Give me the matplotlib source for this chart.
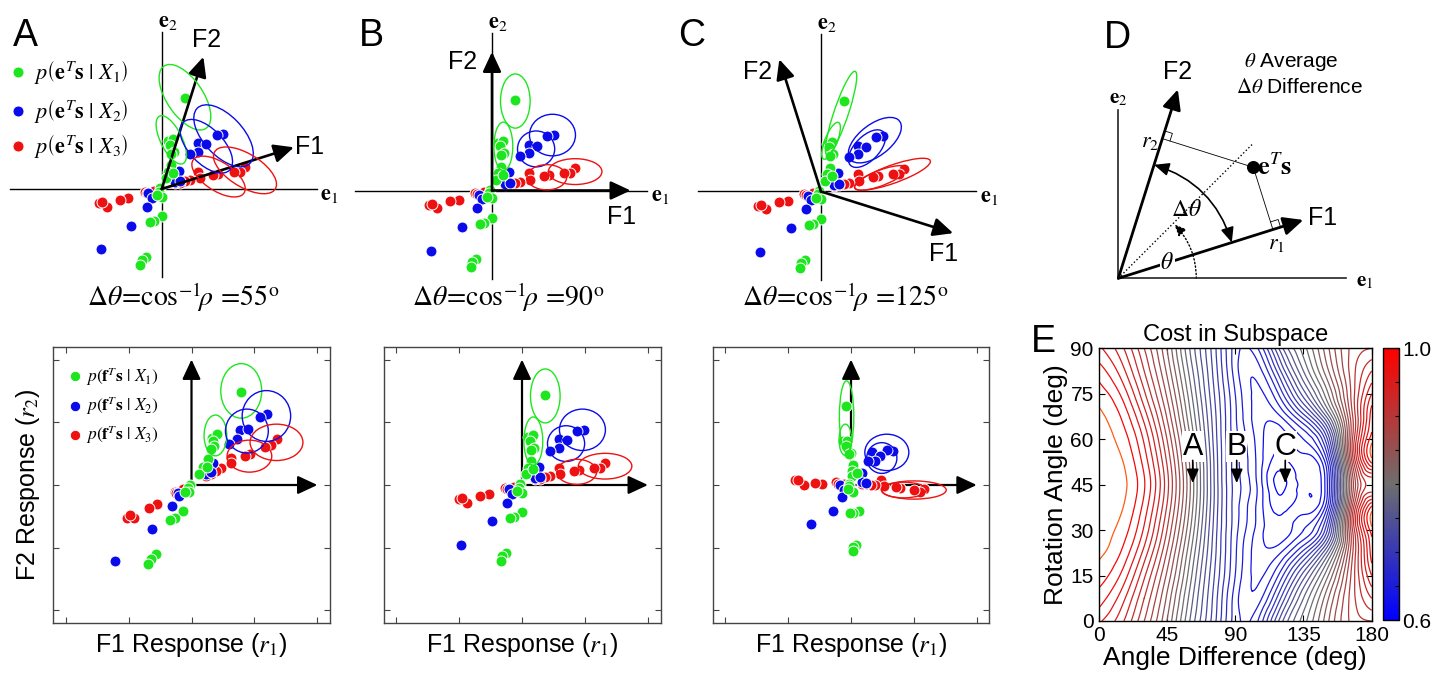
import numpy as np
import matplotlib
matplotlib.use("Agg")
import matplotlib.pyplot as plt
import matplotlib.tri as mtri
from matplotlib.patches import Ellipse, FancyArrowPatch
from matplotlib.transforms import Affine2D
from matplotlib.colors import LinearSegmentedColormap, Normalize
from matplotlib.cm import ScalarMappable

plt.rcParams['font.family'] = ['Liberation Sans', 'DejaVu Sans']
plt.rcParams['mathtext.fontset'] = 'stix'

# stimuli in the (e1, e2) plane, one list per class (1 unit = one tick of the response plots)
green_pts = [(0.37, 1.44), (0.10, 0.76), (0.18, 0.79), (0.13, 0.70), (0.19, 0.59), (0.14, 0.56),
             (0.15, 0.38), (0.10, 0.27), (0.07, 0.17), (0.18, 0.25), (-0.03, 0.01), (-0.05, -0.04),
             (0.00, -0.12), (-0.08, -0.10), (0.00, -0.43), (-0.12, -0.51), (-0.19, -0.53),
             (-0.25, -1.08), (-0.32, -1.13), (-0.34, -1.21)]
blue_pts = [(0.98, 0.88), (0.87, 0.86), (0.58, 0.73), (0.71, 0.71), (0.58, 0.59), (0.45, 0.55),
            (0.27, 0.29), (0.21, 0.11), (0.29, 0.12), (-0.21, -0.07), (-0.16, -0.14),
            (-0.24, -0.28), (-0.48, -0.58), (-0.97, -0.96)]
red_pts = [(1.32, 0.35), (1.24, 0.27), (1.14, 0.27), (0.90, 0.24), (0.82, 0.23), (0.58, 0.27),
           (0.61, 0.17), (0.45, 0.14), (0.37, 0.12), (0.29, 0.10), (0.21, 0.09), (-0.13, -0.03),
           (-0.27, -0.04), (-0.24, -0.06), (-0.53, -0.15), (-0.66, -0.17), (-1.00, -0.23),
           (-0.87, -0.28), (-0.95, -0.21)]

# filter directions (deg) for A, B, C  (rotation 45, difference 55 / 90 / 125)
delta_theta = [55, 90, 125]
filter_angles = [(17.5, 72.5), (0.0, 90.0), (-17.5, 107.5)]

# fitted class ellipses in response space: (r1, r2, width, height), green / blue / red, two each
ell_A = [[(0.79, 1.50, 0.65, 0.87), (0.38, 0.79, 0.36, 0.65)],
         [(1.19, 1.10, 0.77, 0.81), (0.88, 0.86, 0.68, 0.70)],
         [(1.35, 0.68, 0.84, 0.58), (0.92, 0.46, 0.71, 0.51)]]
ell_B = [[(0.37, 1.42, 0.47, 0.86), (0.18, 0.70, 0.30, 0.77)],
         [(0.96, 0.88, 0.73, 0.66), (0.70, 0.66, 0.59, 0.57)],
         [(1.32, 0.30, 0.85, 0.41), (0.87, 0.21, 0.63, 0.40)]]
ell_C = [[(-0.07, 1.09, 0.23, 1.14), (-0.09, 0.72, 0.20, 0.50)],
         [(0.57, 0.52, 0.70, 0.58), (0.49, 0.43, 0.48, 0.49)],
         [(1.00, -0.08, 1.03, 0.29), (0.84, -0.08, 0.71, 0.25)]]
ellipses = [ell_A, ell_B, ell_C]

# panel E: cost (in contour steps of 0.4/30 above 0.6)
ang_diff = np.arange(0, 181, 15)
rot_ang = np.arange(0, 90.1, 7.5)
r00 = [27.2, 25.3, 22.0, 18.0, 13.0, 8.7, 4.5, 5.0, 10.5, 14.5, 18.5, 22.0, 23.0]
r07 = [28.5, 26.5, 23.0, 18.8, 13.7, 9.0, 4.5, 3.5, 8.0, 13.0, 17.5, 22.0, 25.0]
r15 = [29.55, 27.8, 24.2, 19.8, 14.5, 9.4, 5.0, 2.8, 5.5, 10.5, 15.5, 21.5, 27.0]
r22 = [30.2, 28.9, 25.6, 20.9, 15.3, 9.8, 5.2, 2.5, 3.0, 6.5, 12.0, 20.5, 28.5]
r30 = [30.5, 29.6, 26.8, 22.0, 16.2, 10.1, 5.4, 2.6, 1.3, 3.0, 7.5, 20.0, 29.6]
r37 = [30.7, 30.1, 27.6, 22.9, 16.9, 10.4, 5.5, 2.7, 0.6, 1.5, 4.5, 19.0, 29.3]
r45 = [30.8, 30.3, 28.1, 23.4, 17.2, 10.5, 5.6, 2.8, -0.3, 1.2, 3.5, 17.5, 24.0]
cost_steps = [r00, r07, r15, r22, r30, r37, r45, r37, r30, r22, r15, r07, r00]

green, blue, red = '#1ee61e', '#0b0bea', '#ee1111'
class_cols = [green, blue, red]
class_pts = [green_pts, blue_pts, red_pts]

W, H = 1449, 680
fig = plt.figure(figsize=(W / 100, H / 100), dpi=100)


def px_axes(x0, y0, x1, y1):
    return fig.add_axes([x0 / W, 1 - y1 / H, (x1 - x0) / W, (y1 - y0) / H])


def filt_matrix(a1, a2):
    a1, a2 = np.radians(a1), np.radians(a2)
    return np.array([[np.cos(a1), np.sin(a1)], [np.cos(a2), np.sin(a2)]])


def arrow(ax, start, end, lw=1.8, ms=20, hl=0.6, hw=0.28):
    ax.annotate('', xy=end, xytext=start,
                arrowprops=dict(arrowstyle='-|>,head_length=%s,head_width=%s' % (hl, hw),
                                color='k', lw=lw, mutation_scale=ms, shrinkA=0, shrinkB=0))


def draw_points(ax, M):
    for pts, c in zip(class_pts[::-1], class_cols[::-1]):
        r = np.array(pts) @ M.T
        ax.scatter(r[:, 0], r[:, 1], s=62, c=c, edgecolors='white', linewidths=0.7, zorder=3)


U = 63.0
top_box = [(0, 340), (335, 665), (662, 1000)]
top_origin = [(161.7, 189.0), (492.0, 190.5), (821.0, 191.5)]
e1_left = [-2.41, -2.17, -1.95]
f_label_pos = [[(2.35, 0.67), (0.71, 2.37)], [(2.06, -0.42), (-0.46, 2.04)], [(1.94, -0.99), (-1.0, 1.89)]]
title_x = [183, 508, 845]
letters_x = [25, 371, 692]

bot_box = [(53, 330), (383.5, 660.5), (712.7, 989.3)]

for i in range(3):
    M = filt_matrix(*filter_angles[i])
    Minv = np.linalg.inv(M)
    A3 = np.eye(3)
    A3[:2, :2] = Minv

    # ---- top: stimulus space
    x0, x1 = top_box[i]
    ox, oy = top_origin[i]
    ax = px_axes(x0, 0, x1, 310)
    ax.set_xlim((x0 - ox) / U, (x1 - ox) / U)
    ax.set_ylim((oy - 310) / U, oy / U)
    ax.axis('off')
    ax.plot([e1_left[i], 2.46], [0, 0], color='k', lw=1.0, zorder=1)
    ax.plot([0, 0], [-1.4, 2.5], color='k', lw=1.0, zorder=1)
    ax.text(2.52, -0.08, r'$\mathbf{e}_1$', fontsize=16, ha='left', va='center')
    ax.text(0.1, 2.66, r'$\mathbf{e}_2$', fontsize=16, ha='center', va='center')
    draw_points(ax, np.eye(2))
    for cls, c in zip(ellipses[i], class_cols):
        for (cx, cy, w, h) in cls:
            ax.add_patch(Ellipse((cx, cy), w, h, fill=False, ec=c, lw=1.0, zorder=4,
                                 transform=Affine2D(A3) + ax.transData))
    for k, a in enumerate(filter_angles[i]):
        t = np.radians(a)
        arrow(ax, (0, 0), (2.2 * np.cos(t), 2.2 * np.sin(t)), lw=1.9)
        fx, fy = f_label_pos[i][k]
        ax.text(fx, fy, 'F%d' % (k + 1), fontsize=18, ha='center', va='center')
    ax.text((title_x[i] - ox) / U, (oy - 297) / U,
            r'$\Delta\theta\!=\!\mathrm{cos}^{-1}\!\rho\ \!=\!%d^{\mathrm{o}}$' % delta_theta[i],
            fontsize=20, ha='center', va='center')
    fig.text(letters_x[i] / W, 1 - 36 / H, 'ABC'[i], fontsize=27, ha='center', va='center')

    # ---- bottom: filter response space
    bx0, bx1 = bot_box[i]
    axb = px_axes(bx0, 347, bx1, 623)
    axb.set_xlim(-2.2, 2.2)
    axb.set_ylim(-2.2, 2.2)
    axb.set_xticks(range(-2, 3))
    axb.set_yticks(range(-2, 3))
    axb.tick_params(direction='in', top=True, right=True, labelbottom=False, labelleft=False,
                    length=4, width=0.8, color='#444')
    for s in axb.spines.values():
        s.set_color('#444')
        s.set_linewidth(1.0)
    arrow(axb, (0, 0), (2.0, 0), lw=1.6)
    arrow(axb, (0, 0), (0, 2.0), lw=1.6)
    draw_points(axb, M)
    for cls, c in zip(ellipses[i], class_cols):
        for (cx, cy, w, h) in cls:
            axb.add_patch(Ellipse((cx, cy), w, h, fill=False, ec=c, lw=1.0, zorder=4))
    axb.set_xlabel(r'F1 Response ($r_{1}$)', fontsize=18, labelpad=6)
    if i == 0:
        axb.set_ylabel(r'F2 Response ($r_{2}$)', fontsize=18, labelpad=8)
        for k, c in enumerate(class_cols):
            yy = [1.73, 1.26, 0.80][k]
            axb.scatter([-1.85], [yy], s=55, c=c, edgecolors='white', linewidths=0.6, zorder=5)
            axb.text(-1.68, yy, r'$p\left(\mathbf{f}^{T}\mathbf{s}\ |\ X_{%d}\right)$' % (k + 1),
                     fontsize=12.5, ha='left', va='center')
        # legend on top A
        axt = fig.axes[0]
        for k, c in enumerate(class_cols):
            yy = [1.85, 1.24, 0.69][k]
            axt.scatter([-2.28], [yy], s=62, c=c, edgecolors='white', linewidths=0.6, zorder=5)
            axt.text(-2.03, yy, r'$p\left(\mathbf{e}^{T}\mathbf{s}\ |\ X_{%d}\right)$' % (k + 1),
                     fontsize=16, ha='left', va='center')

# ---- panel D: geometry sketch (pixel units)
axd = px_axes(1090, 0, 1449, 300)
dox, doy = 1118.3, 278.3
axd.set_xlim(1090 - dox, 1449 - dox)
axd.set_ylim(doy - 300, doy)
axd.axis('off')
axd.plot([0, 228], [0, 0], color='#222', lw=1.2)
axd.plot([0, 0], [0, 168], color='#222', lw=1.2)
axd.text(238, -3, r'$\mathbf{e}_1$', fontsize=15, ha='left', va='center')
axd.text(0, 180, r'$\mathbf{e}_2$', fontsize=15, ha='center', va='center')
fig.text(1117 / W, 1 - 38 / H, 'D', fontsize=27, ha='center', va='center')

d_rot, d_diff = 45.0, 55.0
d_len = [194, 198]
d_stim = np.array([135.0, 111.0])
for k, a in enumerate([d_rot - d_diff / 2, d_rot + d_diff / 2]):
    t = np.radians(a)
    uk = np.array([np.cos(t), np.sin(t)])
    arrow(axd, (0, 0), tuple(d_len[k] * uk), lw=2.0, ms=20)
    foot = (d_stim @ uk) * uk
    axd.plot([d_stim[0], foot[0]], [d_stim[1], foot[1]], color='k', lw=0.6)
    nk = (d_stim - foot) / np.linalg.norm(d_stim - foot)
    sq = [foot + 8 * nk, foot + 8 * nk + 8 * uk, foot + 8 * uk]
    axd.plot([p[0] for p in sq], [p[1] for p in sq], color='k', lw=0.6)
axd.plot([0, 134], [0, 134], color='k', lw=1.0, ls=':')
axd.scatter([d_stim[0]], [d_stim[1]], s=70, c='k', zorder=5)
axd.text(139, 111, r'$\mathbf{e}^{T}\mathbf{s}$', fontsize=19, ha='left', va='center')
axd.text(59.7, 206.6, 'F2', fontsize=18, ha='center', va='center')
axd.text(204.7, 60.3, 'F1', fontsize=18, ha='center', va='center')
axd.text(31.7, 136.6, r'$r_2$', fontsize=16, ha='center', va='center')
axd.text(158.4, 35, r'$r_1$', fontsize=16, ha='center', va='center')
axd.add_patch(FancyArrowPatch((35.8, 113.5), (113.5, 35.8), connectionstyle='arc3,rad=-0.26',
                              arrowstyle='<|-|>,head_length=0.5,head_width=0.22', mutation_scale=18,
                              color='k', lw=1.2, shrinkA=0, shrinkB=0))
axd.add_patch(FancyArrowPatch((78, 0), (56, 54), connectionstyle='arc3,rad=0.2',
                              arrowstyle='-|>,head_length=0.5,head_width=0.22', mutation_scale=14,
                              color='k', lw=1.0, ls=':', shrinkA=0, shrinkB=0))
axd.text(68.4, 68.3, r'$\Delta\theta$', fontsize=17, ha='center', va='center')
axd.text(49, 15, r'$\theta$', fontsize=17, ha='center', va='center',
         bbox=dict(fc='white', ec='none', pad=0.5))
axd.text(173.4, 216.6, r'$\theta$ Average', fontsize=15, ha='center', va='center')
axd.text(181.7, 191, r'$\Delta\theta$ Difference', fontsize=15, ha='center', va='center')

# ---- panel E: cost contours
cmap = LinearSegmentedColormap.from_list('bgr', ['#0000ff', '#6e6e6e', '#ff0000'])
norm = Normalize(0.6, 1.0)
axe = px_axes(1098.7, 348.3, 1371.7, 621)
X, Y = np.meshgrid(ang_diff, rot_ang)
Z = 0.6 + np.array(cost_steps) * 0.4 / 30
tri = mtri.Triangulation(X.ravel(), Y.ravel())
refiner = mtri.UniformTriRefiner(tri)
tri_r, z_r = refiner.refine_field(Z.ravel(), subdiv=4)
levels = 0.6 + np.arange(31) * 0.4 / 30
line_cols = [cmap(norm(l)) for l in levels[:-1]] + ['#ff5a14']
axe.tricontour(tri_r, z_r, levels=levels, colors=line_cols, linewidths=0.9)
axe.set_xlim(0, 180)
axe.set_ylim(0, 90)
axe.set_xticks([0, 45, 90, 135, 180])
axe.set_yticks([0, 15, 30, 45, 60, 75, 90])
axe.tick_params(direction='in', top=True, right=True, labelsize=15, length=4)
axe.set_xlabel('Angle Difference (deg)', fontsize=19, labelpad=1)
axe.set_ylabel('Rotation Angle (deg)', fontsize=19, labelpad=2)
axe.set_title('Cost in Subspace', fontsize=17, pad=5)
for s in axe.spines.values():
    s.set_linewidth(1.0)
for lab, xv in zip(['A', 'B', 'C'], [62, 91, 123]):
    axe.text(xv, 57.5, lab, fontsize=22, ha='center', va='center',
             bbox=dict(fc='white', ec='none', pad=0.5))
    axe.annotate('', xy=(xv, 45.5), xytext=(xv, 53),
                 arrowprops=dict(arrowstyle='-|>,head_length=0.7,head_width=0.3', color='k',
                                 lw=1.2, mutation_scale=12, shrinkA=0, shrinkB=0))
fig.text(1043 / W, 1 - 342 / H, 'E', fontsize=27, ha='center', va='center')

cax = px_axes(1383.3, 348.3, 1399.3, 620)
cb = fig.colorbar(ScalarMappable(norm=norm, cmap=cmap), cax=cax, ticks=np.arange(0.6, 1.001, 0.05))
cb.ax.set_yticklabels(['0.6'] + [''] * 7 + ['1.0'])
cb.ax.tick_params(direction='in', length=3, labelsize=15, pad=2)
cb.outline.set_linewidth(1.0)

fig.savefig('out.png', dpi=100)
